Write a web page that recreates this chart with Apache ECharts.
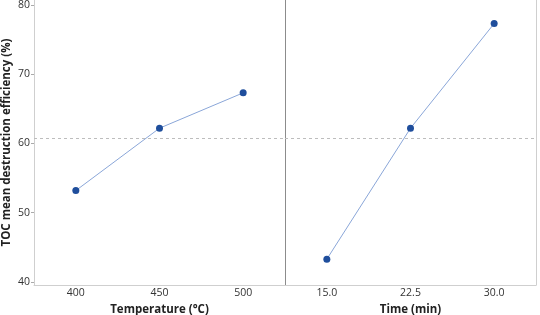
<!DOCTYPE html>
<html>
<head>
<meta charset="utf-8">
<script src="https://cdn.jsdelivr.net/npm/echarts@6/dist/echarts.min.js"></script>
<style>
  html, body { margin: 0; padding: 0; background: #fff; }
  #main { width: 540px; height: 315px; }
</style>
</head>
<body>
<div id="main"></div>
<script>
// data
const tempCats = ["400", "450", "500"];
const tempVals = [53.2, 62.2, 67.3];
const timeCats = ["15.0", "22.5", "30.0"];
const timeVals = [43.3, 62.2, 77.3];
const yTicks = [40, 50, 60, 70, 80];
const overallMean = 60.8;

const font = "'Open Sans', 'Noto Sans', sans-serif";
const lineColor = "#8aa6d8";
const dotColor = "#1f4e9c";

let chart = echarts.init(document.getElementById("main"));

// same y-range for both panels, axis frame goes a bit past 40 and 80
const yMin = 39.57, yMax = 80.7;

function panelSeries(name, data, xi, yi) {
  return {
    name: name,
    type: "line",
    xAxisIndex: xi,
    yAxisIndex: yi,
    data: data,
    symbol: "circle",
    symbolSize: 7,
    itemStyle: { color: dotColor },
    lineStyle: { color: lineColor, width: 1 },
    markLine: {
      silent: true,
      symbol: "none",
      label: { show: false },
      lineStyle: { color: "#bdbdbd", type: [3, 3], width: 1 },
      data: [{ yAxis: overallMean }],
    },
    z: 3,
  };
}

chart.setOption({
  animation: false,
  grid: [
    { left: 34, right: 255, top: 0, bottom: 30, outerBoundsMode: "none" },
    { left: 285, right: 4, top: 0, bottom: 30, outerBoundsMode: "none" },
  ],
  xAxis: [
    {
      type: "category",
      gridIndex: 0,
      data: tempCats,
      name: "Temperature (°C)",
      nameLocation: "middle",
      nameGap: 12,
      nameTextStyle: { fontFamily: font, fontSize: 11.5, fontWeight: "bold", color: "#222", verticalAlign: "top" },
      axisLine: { lineStyle: { color: "#cfcfcf" } },
      axisTick: { show: false },
      axisLabel: { margin: 3, fontFamily: font, fontSize: 10.5, color: "#333" },
    },
    {
      type: "category",
      gridIndex: 1,
      data: timeCats,
      name: "Time (min)",
      nameLocation: "middle",
      nameGap: 12,
      nameTextStyle: { fontFamily: font, fontSize: 11.5, fontWeight: "bold", color: "#222", verticalAlign: "top" },
      axisLine: { lineStyle: { color: "#cfcfcf" } },
      axisTick: { show: false },
      axisLabel: { margin: 3, fontFamily: font, fontSize: 10.5, color: "#333" },
    },
  ],
  yAxis: [
    {
      type: "value",
      gridIndex: 0,
      min: yMin,
      max: yMax,
      name: "TOC mean destruction efficiency (%)",
      nameLocation: "middle",
      nameGap: 21,
      nameTextStyle: { fontFamily: font, fontSize: 11.5, fontWeight: "bold", color: "#222" },
      axisLine: { show: true, lineStyle: { color: "#cfcfcf" } },
      axisTick: { show: true, length: 3, customValues: yTicks, lineStyle: { color: "#aaa" } },
      axisLabel: { customValues: yTicks, margin: 4, fontFamily: font, fontSize: 10.5, color: "#333" },
      splitLine: { show: false },
    },
    {
      type: "value",
      gridIndex: 1,
      min: yMin,
      max: yMax,
      axisLine: { show: true, lineStyle: { color: "#8c8c8c" } },
      axisTick: { show: false },
      axisLabel: { show: false },
      splitLine: { show: false },
    },
    {
      type: "value",
      gridIndex: 1,
      position: "right",
      min: yMin,
      max: yMax,
      axisLine: { show: true, lineStyle: { color: "#cfcfcf" } },
      axisTick: { show: false },
      axisLabel: { show: false },
      splitLine: { show: false },
    },
  ],
  series: [
    panelSeries("Temperature", tempVals, 0, 0),
    panelSeries("Time", timeVals, 1, 1),
  ],
});
</script>
</body>
</html>
